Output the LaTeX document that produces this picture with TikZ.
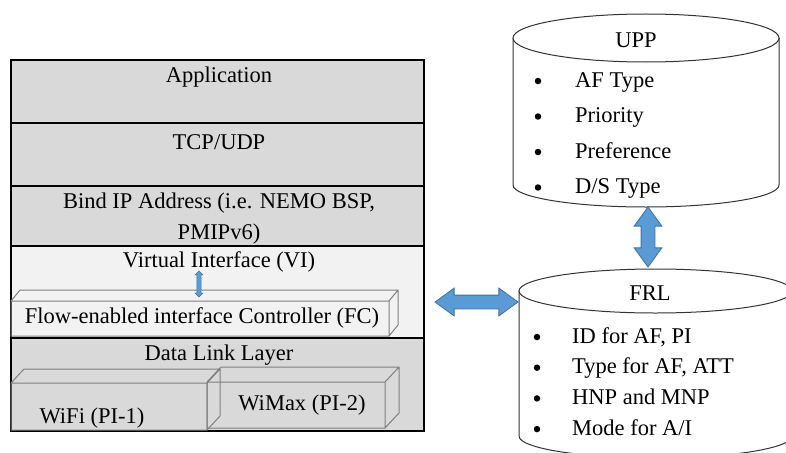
\documentclass[tikz,border=0pt]{standalone}
\usepackage{fontspec}
\setmainfont{Liberation Serif}
\usetikzlibrary{shapes.arrows,calc,positioning}
\definecolor{layergray}{HTML}{D9D9D9}
\definecolor{vigray}{HTML}{F2F2F2}
\definecolor{boxedge}{HTML}{7F7F7F}
\definecolor{arrowblue}{HTML}{5B9BD5}
\definecolor{arrowline}{HTML}{41719C}
\newcommand{\cuboid}[6]{%
  \draw[boxedge,line width=1pt] (#1,#2) rectangle (#3,#4)
    (#1,#2) -- ++(#5,-#6) -- ($(#3,#2)+(#5,-#6)$) -- ($(#3,#4)+(#5,-#6)$) -- (#3,#4)
    (#3,#2) -- ++(#5,-#6);}

\begin{document}
\begin{tikzpicture}[x=1pt,y=-1pt,
  every node/.style={font=\fontsize{22.5}{31}\selectfont, inner sep=0pt},
  row/.style={draw=black, line width=1.2pt},
  drum/.style={draw=black!80, line width=1pt, fill=white},
  fat/.style={double arrow, draw=arrowline, fill=arrowblue, line width=0.8pt,
    inner xsep=0pt, inner ysep=6.5pt, double arrow head extend=7pt, double arrow tip angle=72},
  dot/.style={circle, fill=black, minimum size=6.5pt},
  entry/.style={anchor=base west}]
  \clip (0,0) rectangle (786,452);
  \fill[white] (0,0) rectangle (786,452);
  \foreach \top/\bot/\col in {60/123/layergray, 123/186/layergray, 186/246/layergray,
      246/338/vigray, 338/431/layergray}
    \draw[row, fill=\col] (11,\top) rectangle (424,\bot);

  \node (app) at (219,77) {Application};
  \node (tcp) at (219,142) {TCP/UDP};
  \node[align=center] (bind) at (219,219) {Bind IP Address (i.e. NEMO BSP,\\PMIPv6)};
  \node (vi) at (219,262) {Virtual Interface (VI)};
  \cuboid{11}{301}{389}{336}{9}{11}
  \node (fc) at (202,318) {Flow-enabled interface Controller (FC)};
  \node[fat, rotate=90, minimum height=26pt, inner ysep=1.8pt,
    double arrow head extend=1.8pt, double arrow tip angle=90, line width=0.5pt] (vifc) at (199,284) {};
  \node (dll) at (219,355) {Data Link Layer};
  \cuboid{11}{383}{207}{430}{13}{14}
  \cuboid{207}{382}{385}{428}{14}{15}
  \node (wifi) at (92,418) {WiFi (PI-1)};
  \node (wimax) at (302,405) {WiMax (PI-2)};

  \draw[drum] (513,38) -- (513,185) arc[start angle=180, end angle=360, x radius=133pt, y radius=22pt] -- (779,38);
  \draw[drum] (646,38) ellipse[x radius=133pt, y radius=24pt];
  \node (upp) at (636,40) {UPP};
  \foreach \t [count=\i] in {AF Type, Priority, Preference, D/S Type} {
    \node[dot] at (538,45.5+35.5*\i) {};
    \node[entry] (upp-\i) at (575,51.5+35.5*\i) {\t};
  }

  \draw[drum] (519,291) -- (519,436) arc[start angle=180, end angle=360, x radius=136.5pt, y radius=22pt] -- (792,291);
  \draw[drum] (655.5,291) ellipse[x radius=136.5pt, y radius=22pt];
  \node (frl) at (650,293) {FRL};
  \foreach \t [count=\i] in {{ID for AF, PI}, {Type for AF, ATT}, HNP and MNP, Mode for A/I} {
    \node[dot] at (537,306.3+30.7*\i) {};
    \node[entry] (frl-\i) at (572,312.3+30.7*\i) {\t};
  }

  \node[fat, rotate=90, minimum height=60pt] (uppfrl) at (648,237) {};
  \node[fat, minimum height=83pt] (stackfrl) at (476.5,302) {};
\end{tikzpicture}
\end{document}
